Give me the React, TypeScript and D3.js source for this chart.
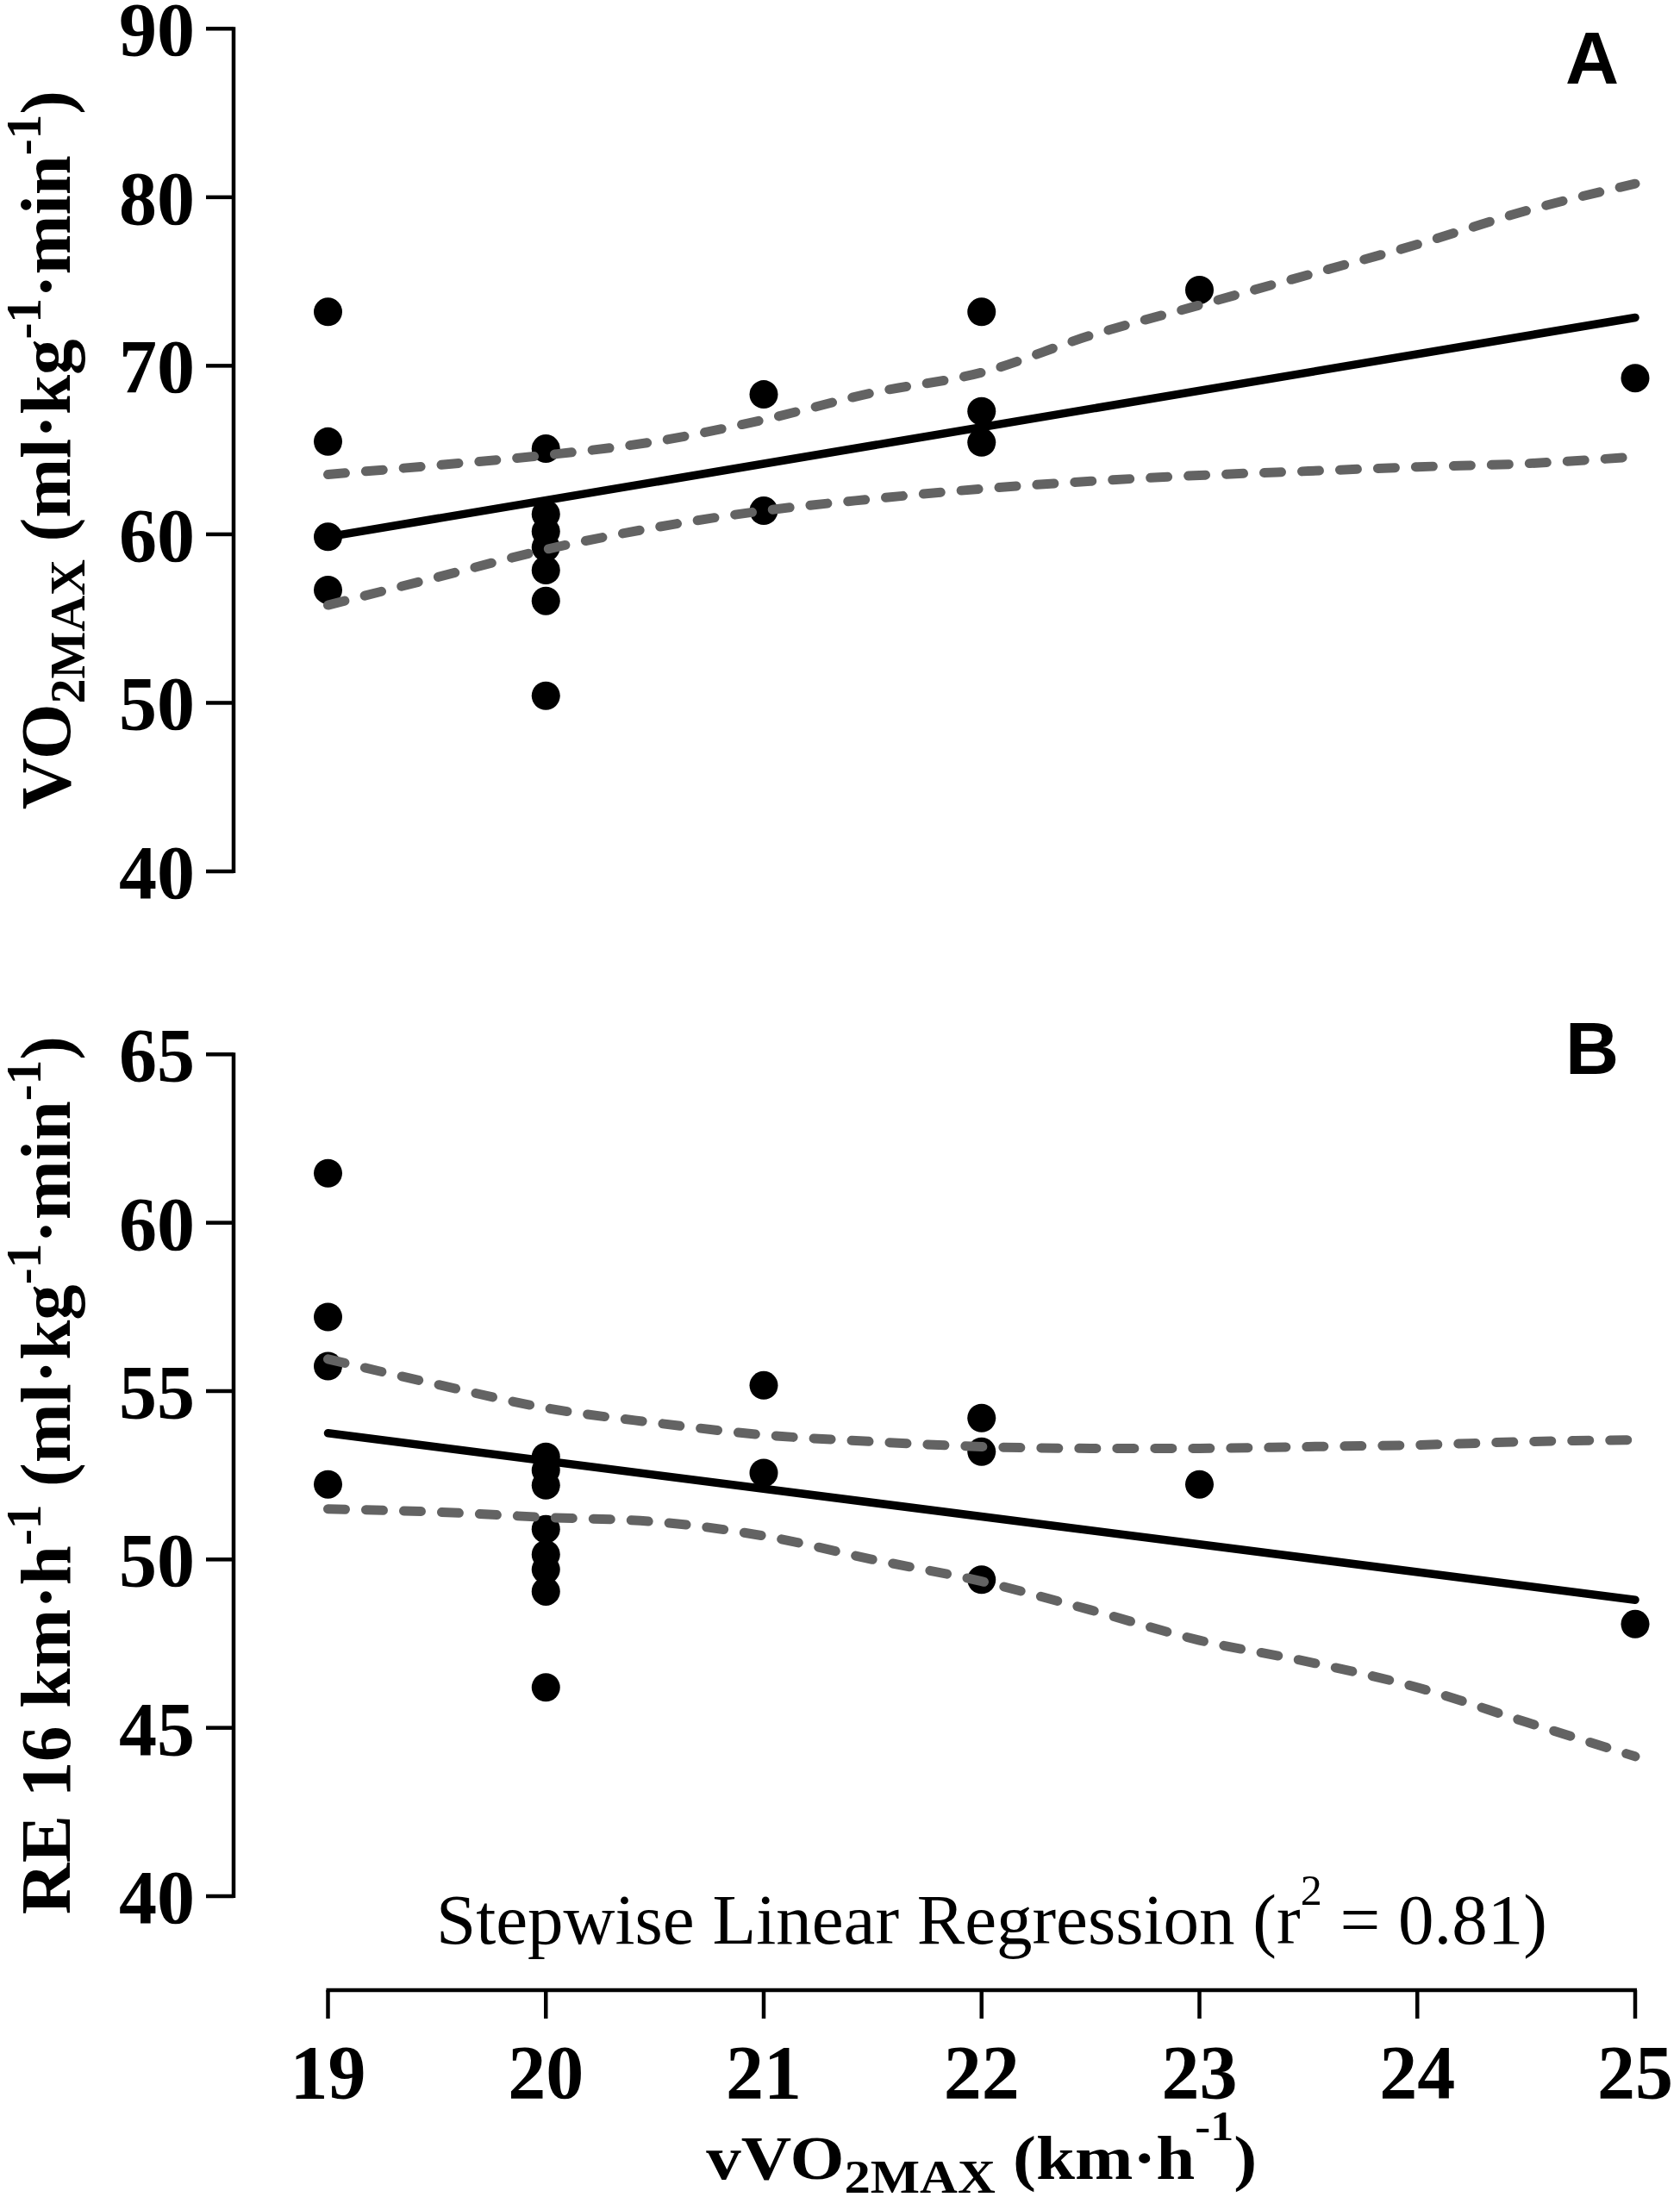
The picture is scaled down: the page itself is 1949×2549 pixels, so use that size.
import React from "react";
import * as d3 from "d3";

// ---------- data ----------
const xTicks = [19, 20, 21, 22, 23, 24, 25];
const aTicks = [40, 50, 60, 70, 80, 90];
const bTicks = [40, 45, 50, 55, 60, 65];

// Panel A: VO2max vs vVO2max
const ptsAX = [19, 19, 19, 19, 20, 20, 20, 20, 20, 20, 20, 21, 21, 22, 22, 22, 23, 25];
const ptsAY = [73.2, 65.5, 59.85, 56.7, 65.08, 61.2, 60.17, 59.23, 57.87, 56.05, 50.42, 68.3, 61.4, 73.2, 67.3, 65.45, 74.5, 69.27];

// Panel B: RE 16 km/h vs vVO2max
const ptsBX = [19, 19, 19, 19, 20, 20, 20, 20, 20, 20, 20, 20, 21, 21, 22, 22, 22, 23, 25];
const ptsBY = [61.47, 57.2, 55.74, 52.23, 53.05, 52.65, 52.2, 50.9, 50.15, 49.7, 49.05, 46.2, 55.17, 52.57, 54.2, 53.2, 49.4, 52.23, 48.08];

// regression lines (end points)
const fitX = [19, 25];
const fitA = [59.85, 72.86];
const fitB = [53.75, 48.8];

// confidence bands
const ciX = [19, 19.5, 20, 20.5, 21, 21.5, 22, 22.5, 23, 23.5, 24, 24.5, 25];
const ciAUpper = [63.55, 64.1, 64.7, 65.5, 66.8, 68.4, 69.6, 71.8, 73.6, 75.4, 77.2, 79.2, 80.8];
const ciALower = [55.8, 57.45, 59.1, 60.4, 61.4, 62.1, 62.7, 63.15, 63.5, 63.75, 64.0, 64.2, 64.6];
const ciBUpper = [55.95, 55.2, 54.5, 54.06, 53.7, 53.5, 53.35, 53.3, 53.3, 53.35, 53.4, 53.5, 53.55];
const ciBLower = [51.5, 51.41, 51.25, 51.12, 50.7, 50.0, 49.35, 48.5, 47.6, 46.96, 46.2, 45.17, 44.15];

// ---------- layout ----------
const W = 1949;
const H = 2549;
const SERIF = "'Liberation Serif', 'Times New Roman', Times, serif";
const SANS = "'Liberation Sans', Arial, Helvetica, sans-serif";

const x = d3.scaleLinear().domain([19, 25]).range([380.5, 1897]);
const yA = d3.scaleLinear().domain([40, 90]).range([1011, 33.3]);
const yB = d3.scaleLinear().domain([40, 65]).range([2200, 1223.3]);

const AXIS_X = 271;
const X_AXIS_Y = 2309;

function Panel({
  y,
  ticks,
  px,
  py,
  fit,
  upper,
  lower,
}: {
  y: d3.ScaleLinear<number, number>;
  ticks: number[];
  px: number[];
  py: number[];
  fit: number[];
  upper: number[];
  lower: number[];
}) {
  const [y0, y1] = y.range();
  const fitLine = d3
    .line<number>()
    .x((_, i) => x(fitX[i]))
    .y((d) => y(d));
  const band = d3
    .line<number>()
    .x((_, i) => x(ciX[i]))
    .y((d) => y(d))
    .curve(d3.curveMonotoneX);
  return (
    <g>
      <line x1={AXIS_X} x2={AXIS_X} y1={y1 - 2} y2={y0 + 2} stroke="#000" strokeWidth={4.5} />
      {ticks.map((t) => (
        <g key={t}>
          <line x1={239} x2={AXIS_X} y1={y(t)} y2={y(t)} stroke="#000" strokeWidth={4.5} />
          <text
            x={226}
            y={y(t) + 31}
            textAnchor="end"
            fontFamily={SERIF}
            fontWeight="bold"
            fontSize={88}
          >
            {t}
          </text>
        </g>
      ))}
      {px.map((vx, i) => (
        <circle key={i} cx={x(vx)} cy={y(py[i])} r={16.5} fill="#000" />
      ))}
      <path d={fitLine(fit) || ""} fill="none" stroke="#000" strokeWidth={9.5} strokeLinecap="round" />
      {[upper, lower].map((arr, k) => (
        <path
          key={k}
          d={band(arr) || ""}
          fill="none"
          stroke="#636363"
          strokeWidth={11}
          strokeDasharray="20 24"
          strokeLinecap="round"
        />
      ))}
    </g>
  );
}

export default function App() {
  const supSize = 57;
  return (
    <svg
      width={W}
      height={H}
      viewBox={`0 0 ${W} ${H}`}
      style={{ position: "absolute", left: 0, top: 0, background: "#fff" }}
    >
      <rect x={0} y={0} width={W} height={H} fill="#fff" />

      <Panel y={yA} ticks={aTicks} px={ptsAX} py={ptsAY} fit={fitA} upper={ciAUpper} lower={ciALower} />
      <Panel y={yB} ticks={bTicks} px={ptsBX} py={ptsBY} fit={fitB} upper={ciBUpper} lower={ciBLower} />

      {/* panel letters */}
      <text x={1847} y={97} textAnchor="middle" fontFamily={SANS} fontWeight="bold" fontSize={86}>
        A
      </text>
      <text x={1847} y={1246} textAnchor="middle" fontFamily={SANS} fontWeight="bold" fontSize={86}>
        B
      </text>

      {/* y label A */}
      <text
        transform={`translate(81, ${(yA.range()[0] + yA.range()[1]) / 2}) rotate(-90)`}
        textAnchor="middle"
        fontFamily={SERIF}
        fontWeight="bold"
        fontSize={83}
        textLength={834}
        lengthAdjust="spacingAndGlyphs"
      >
        VO
        <tspan fontSize={58} dy={17}>2MAX</tspan>
        <tspan dy={-17}> (ml·kg</tspan>
        <tspan fontSize={supSize} dy={-34}>-1</tspan>
        <tspan dy={34}>·min</tspan>
        <tspan fontSize={supSize} dy={-34}>-1</tspan>
        <tspan dy={34}>)</tspan>
      </text>

      {/* y label B */}
      <text
        transform={`translate(81, ${(yB.range()[0] + yB.range()[1]) / 2}) rotate(-90)`}
        textAnchor="middle"
        fontFamily={SERIF}
        fontWeight="bold"
        fontSize={83}
        textLength={1019}
        lengthAdjust="spacingAndGlyphs"
      >
        RE 16 km·h
        <tspan fontSize={supSize} dy={-34}>-1</tspan>
        <tspan dy={34}> (ml·kg</tspan>
        <tspan fontSize={supSize} dy={-34}>-1</tspan>
        <tspan dy={34}>·min</tspan>
        <tspan fontSize={supSize} dy={-34}>-1</tspan>
        <tspan dy={34}>)</tspan>
      </text>

      {/* annotation */}
      <text x={506} y={2255} fontFamily={SERIF} fontSize={83}>
        Stepwise Linear Regression (r
        <tspan fontSize={50} dy={-45}>2</tspan>
        <tspan dy={45}> = 0.81)</tspan>
      </text>

      {/* x axis */}
      <line x1={x(19) - 2} x2={x(25) + 2} y1={X_AXIS_Y} y2={X_AXIS_Y} stroke="#000" strokeWidth={4.5} />
      {xTicks.map((t) => (
        <g key={t}>
          <line x1={x(t)} x2={x(t)} y1={X_AXIS_Y} y2={X_AXIS_Y + 33} stroke="#000" strokeWidth={4.5} />
          <text x={x(t)} y={2434} textAnchor="middle" fontFamily={SERIF} fontWeight="bold" fontSize={88}>
            {t}
          </text>
        </g>
      ))}

      {/* x title */}
      <text
        x={(x(19) + x(25)) / 2}
        y={2528}
        textAnchor="middle"
        fontFamily={SERIF}
        fontWeight="bold"
        fontSize={72}
        textLength={639}
        lengthAdjust="spacingAndGlyphs"
      >
        vVO
        <tspan fontSize={54} dy={16}>2MAX</tspan>
        <tspan dy={-16}> (km·h</tspan>
        <tspan fontSize={48} dy={-45}>-1</tspan>
        <tspan dy={45}>)</tspan>
      </text>
    </svg>
  );
}
